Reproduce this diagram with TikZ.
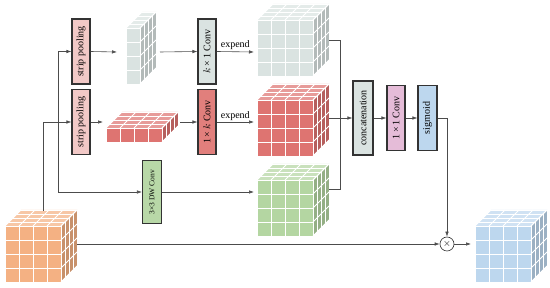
\documentclass[tikz,border=0pt]{standalone}
\usepackage{fontspec}
\setmainfont{Liberation Serif}
\usetikzlibrary{arrows.meta}

\definecolor{cgrey}{HTML}{DAE3E1}
\definecolor{cred}{HTML}{DE7471}
\definecolor{cgreen}{HTML}{B4D6A2}
\definecolor{corange}{HTML}{F4B183}
\definecolor{cblue}{HTML}{BDD7EE}
\definecolor{cpool}{HTML}{F2C9C7}
\definecolor{cmauve}{HTML}{E5BCD8}

% block of small cubes: front corner (#1,#2), cells #3 x #4 x #5, colour #6
\newcommand{\cubeblock}[6]{%
  \pgfmathsetmacro{\cbw}{#3*14}
  \pgfmathsetmacro{\cbh}{#4*14}
  \pgfmathsetmacro{\cbd}{#5*4}
  \begin{scope}[shift={(#1,#2)}]
    \fill[#6!72!white] (0,0) -- (\cbd,-\cbd) -- (\cbw+\cbd,-\cbd) -- (\cbw,0) -- cycle;
    \fill[#6!82!black] (\cbw,0) -- (\cbw+\cbd,-\cbd) -- (\cbw+\cbd,\cbh-\cbd) -- (\cbw,\cbh) -- cycle;
    \fill[#6] (0,0) rectangle (\cbw,\cbh);
    \foreach \i in {0,...,#3} {
      \draw[gridw] (\i*14,0) -- (\i*14,\cbh);
      \draw[gridw] (\i*14,0) -- ++(\cbd,-\cbd);
    }
    \foreach \j in {0,...,#4} {
      \draw[gridw] (0,\j*14) -- (\cbw,\j*14);
      \draw[gridw] (\cbw,\j*14) -- ++(\cbd,-\cbd);
    }
    \foreach \k in {0,...,#5} {
      \draw[gridw] (\k*4,-\k*4) -- ++(\cbw,0);
      \draw[gridw] (\cbw+\k*4,-\k*4) -- ++(0,\cbh);
    }
  \end{scope}}

\begin{document}
\begin{tikzpicture}[
        x=1pt, y=-1pt,
        gridw/.style={white, line width=0.8pt},
        box/.style={draw=black!80, line width=1.1pt, inner sep=0pt,
            minimum width=18pt, minimum height=65pt},
        arr/.style={draw=black!70, line width=0.6pt, -{Latex[length=5pt,width=3.5pt]}},
        wire/.style={draw=black!70, line width=0.6pt}
    ]
    \useasboundingbox (0,0) rectangle (550,288);

    % cubes
    \cubeblock{5}{226}{4}{4}{4}{corange}
    \cubeblock{126}{28}{1}{4}{4}{cgrey}
    \cubeblock{106}{128}{4}{1}{4}{cred}
    \cubeblock{257}{20}{4}{4}{4}{cgrey}
    \cubeblock{257}{100}{4}{4}{4}{cred}
    \cubeblock{257}{180}{4}{4}{4}{cgreen}
    \cubeblock{475}{226}{4}{4}{4}{cblue}

    \coordinate (inT) at (43,211);
    \coordinate (inR) at (77,244);
    \coordinate (br) at (58,122);
    \coordinate (gsL) at (117,52);
    \coordinate (gsR) at (160,52);
    \coordinate (rsL) at (103,122);
    \coordinate (rsR) at (180,122);
    \coordinate (gcL) at (254,52);
    \coordinate (gcR) at (329,40);
    \coordinate (rcL) at (254,122);
    \coordinate (rcR) at (329,118);
    \coordinate (ccL) at (254,192);
    \coordinate (ccR) at (329,189);
    \coordinate (mg) at (340,118);
    \coordinate (outL) at (471,244);

    % operators
    \node[box, fill=cpool] (sp1) at (81,51.5) {\rotatebox{90}{strip pooling}};
    \node[box, fill=cpool] (sp2) at (81,122) {\rotatebox{90}{strip pooling}};
    \node[box, fill=cgrey] (kc) at (207,51.5) {\rotatebox{90}{$k$\,×\,1 Conv}};
    \node[box, fill=cred!92!white] (ck) at (207,122) {\rotatebox{90}{1\,×\,$k$ Conv}};
    \node[box, fill=cgreen!95!white, minimum width=19pt, minimum height=63pt] (dw) at (152,192)
        {\rotatebox{90}{\fontsize{7.5}{9}\selectfont 3×3 DW Conv}};
    \node[box, fill=cgrey, minimum width=20pt, minimum height=74pt] (cat) at (363,118) {\rotatebox{90}{concatenation}};
    \node[box, fill=cmauve] (c11) at (396,118) {\rotatebox{90}{1\,×\,1 Conv}};
    \node[box, fill=cblue, minimum width=19pt] (sig) at (427.5,118) {\rotatebox{90}{sigmoid}};
    \node[draw=black!80, line width=0.6pt, circle, minimum size=14pt, inner sep=0pt] (mul) at (447,244) {$\times$};

    % connections
    \draw[arr] (inT) |- (sp2.west);
    \draw[arr] (br) |- (sp1.west);
    \draw[arr] (br) |- (dw.west);
    \draw[arr] (sp1.east) -- (gsL);
    \draw[arr] (gsR) -- (kc.west);
    \draw[arr] (kc.east) -- node[above, inner sep=1.5pt] {expend} (gcL);
    \draw[arr] (sp2.east) -- (rsL);
    \draw[arr] (rsR) -- (ck.west);
    \draw[arr] (ck.east) -- node[above, inner sep=1.5pt] {expend} (rcL);
    \draw[arr] (dw.east) -- (ccL);
    \draw[wire] (gcR) -| (mg);
    \draw[wire] (ccR) -| (mg);
    \draw[arr] (rcR) -- (cat.west);
    \draw[arr] (cat.east) -- (c11.west);
    \draw[arr] (c11.east) -- (sig.west);
    \draw[arr] (sig.east) -| (mul.north);
    \draw[arr] (inR) -- (mul.west);
    \draw[arr] (mul.east) -- (outL);
\end{tikzpicture}
\end{document}
